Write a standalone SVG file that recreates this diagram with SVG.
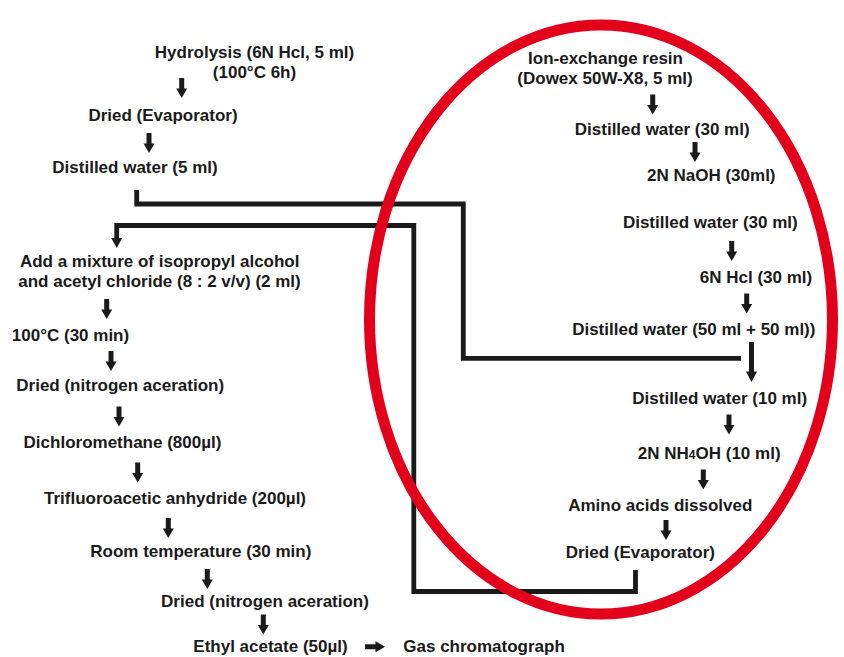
<svg xmlns="http://www.w3.org/2000/svg" xmlns:xlink="http://www.w3.org/1999/xlink" width="844" height="657" viewBox="0 0 844 657">
<style>
  text { font-family: "Liberation Sans", Arial, sans-serif; font-size: 17px; font-weight: bold; fill: #1a1a1a; text-anchor: middle; }
  .line { fill: none; stroke: #1a1a1a; stroke-width: 4.8; stroke-linejoin: miter; }
  .arr { fill: #1a1a1a; }
  .ring { fill: none; stroke: #e2001a; stroke-width: 11; }
</style>
<defs>
  <path id="dn" d="M-2.5 0 h5 v10.5 h3 L0 20 L-5.5 10.5 h3 z"/>
</defs>
<rect width="844" height="657" fill="#ffffff"/>
<g id="connectors">
  <path class="line" d="M136.7 190 V204 H463.3 V358.3 H741"/>
  <path class="line" d="M635.5 570 V591.5 H413.8 V225.5 H116.7 V239"/>
  <path class="arr" d="M111.2 238 h11 L116.7 248 z"/>
  <use href="#dn" class="arr" x="181.7" y="78"/>
  <use href="#dn" class="arr" x="149" y="133"/>
  <use href="#dn" class="arr" x="106.7" y="299"/>
  <use href="#dn" class="arr" x="111" y="351"/>
  <use href="#dn" class="arr" x="119" y="406.5"/>
  <use href="#dn" class="arr" x="137.7" y="462.5"/>
  <use href="#dn" class="arr" x="168.3" y="518"/>
  <use href="#dn" class="arr" x="207.3" y="569"/>
  <use href="#dn" class="arr" x="263.3" y="614.5"/>
  <path class="arr" d="M365 644.2 h10.5 v-3 L385 646.7 L375.5 652.2 v-3 H365 z"/>
  <use href="#dn" class="arr" x="652.7" y="94.5"/>
  <use href="#dn" class="arr" x="695" y="142"/>
  <use href="#dn" class="arr" x="731.7" y="241"/>
  <use href="#dn" class="arr" x="746.7" y="293.5"/>
  <path class="arr" d="M749 342 h5 v29.5 h3 L751.5 382 L746 371.5 h3 z"/>
  <use href="#dn" class="arr" x="729" y="414.5"/>
  <use href="#dn" class="arr" x="703.3" y="469.5"/>
  <use href="#dn" class="arr" x="666" y="520"/>
</g>
<g id="highlight">
  <ellipse class="ring" cx="601" cy="319.5" rx="231.5" ry="294.5"/>
</g>
<g id="n-hydrolysis"><text x="254.5" y="58.3">Hydrolysis (6N Hcl, 5 ml)</text><text x="254.5" y="78.3">(100°C 6h)</text></g>
<g id="n-dried-evap1"><text x="163" y="120.7">Dried (Evaporator)</text></g>
<g id="n-dw5"><text x="135" y="172.7">Distilled water (5 ml)</text></g>
<g id="n-add-mixture"><text x="159.7" y="266.7">Add a mixture of isopropyl alcohol</text><text x="159.5" y="286.7">and acetyl chloride (8 : 2 v/v) (2 ml)</text></g>
<g id="n-100c"><text x="70.5" y="340.7">100°C (30 min)</text></g>
<g id="n-dried-n1"><text x="120.2" y="391">Dried (nitrogen aceration)</text></g>
<g id="n-dcm"><text x="122.5" y="447.7">Dichloromethane (800µl)</text></g>
<g id="n-tfaa"><text x="175" y="504.3">Trifluoroacetic anhydride (200µl)</text></g>
<g id="n-room"><text x="200.8" y="556.7">Room temperature (30 min)</text></g>
<g id="n-dried-n2"><text x="265" y="607.3">Dried (nitrogen aceration)</text></g>
<g id="n-ethyl"><text x="270.5" y="651.7">Ethyl acetate (50µl)</text></g>
<g id="n-gc"><text x="403.3" y="651.7" style="text-anchor:start">Gas chromatograph</text></g>
<g id="n-resin"><text x="605.5" y="64.3">Ion-exchange resin</text><text x="605" y="84">(Dowex 50W-X8, 5 ml)</text></g>
<g id="n-dw30a"><text x="662.2" y="135">Distilled water (30 ml)</text></g>
<g id="n-naoh"><text x="711.3" y="181">2N NaOH (30ml)</text></g>
<g id="n-dw30b"><text x="710.3" y="228.3">Distilled water (30 ml)</text></g>
<g id="n-hcl"><text x="756" y="283.3">6N Hcl (30 ml)</text></g>
<g id="n-dw50"><text x="693.8" y="335">Distilled water (50 ml + 50 ml))</text></g>
<g id="n-dw10"><text x="719.7" y="404">Distilled water (10 ml)</text></g>
<g id="n-nh4oh"><text x="709.2" y="459">2N NH<tspan style="font-size:12px">4</tspan>OH (10 ml)</text></g>
<g id="n-amino"><text x="660.3" y="510.7">Amino acids dissolved</text></g>
<g id="n-dried-evap2"><text x="640.3" y="558.3">Dried (Evaporator)</text></g>
</svg>
